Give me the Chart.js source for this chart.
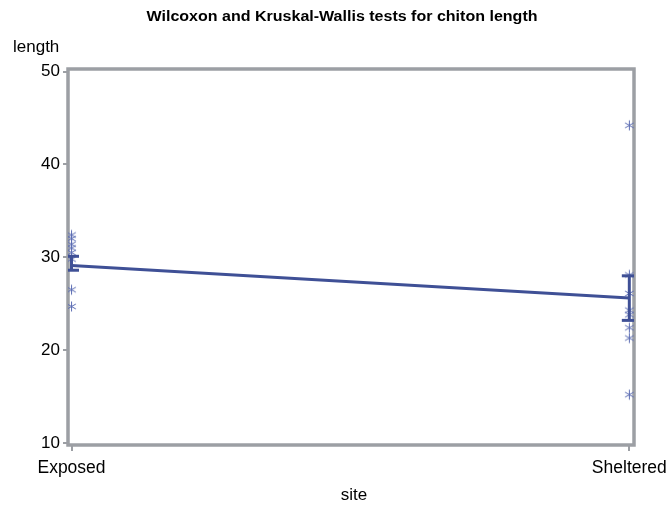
<!DOCTYPE html>
<html>
<head>
<meta charset="utf-8">
<script src="https://cdn.jsdelivr.net/npm/chart.js@4/dist/chart.umd.min.js"></script>
<style>
  html, body { margin: 0; padding: 0; background: #ffffff; }
  #wrap { width: 669px; height: 510px; }
</style>
</head>
<body>
<div id="wrap"><canvas id="chart" width="669" height="510"></canvas></div>
<script>
// Chiton lengths by site
const sites = ['Exposed', 'Sheltered'];
const exposedLengths = [32.4, 32.0, 31.4, 31.0, 30.5, 29.8, 26.5, 24.7];
const shelteredLengths = [44.2, 28.1, 26.1, 24.3, 23.8, 22.4, 21.3, 15.2];
// Site means with their interval ends
const siteMeans = [29.1, 25.6];
const siteLower = [28.6, 23.2];
const siteUpper = [30.1, 28.0];
const yTicks = [10, 20, 30, 40, 50];

const FRAME = '#9c9fa4';
const LINE = '#3f5096';
const STAR = '#5b6cb3';
const FONT = '"Liberation Sans", Arial, sans-serif';

// six-armed asterisk marker
function makeStar(color) {
  const s = 13, c = document.createElement('canvas');
  c.width = s; c.height = s;
  const g = c.getContext('2d');
  g.strokeStyle = color; g.lineWidth = 1;
  const r = 5, m = s / 2;
  for (const a of [90, 30, -30]) {
    const t = a * Math.PI / 180;
    g.beginPath();
    g.moveTo(m - r * Math.cos(t), m - r * Math.sin(t));
    g.lineTo(m + r * Math.cos(t), m + r * Math.sin(t));
    g.stroke();
  }
  return c;
}
const starMarker = makeStar(STAR);

const pointsOf = (vals, i) => vals.map(v => ({ x: i, y: v }));

const datasets = [
  {
    type: 'scatter',
    data: pointsOf(exposedLengths, 0).concat(pointsOf(shelteredLengths, 1)),
    pointStyle: starMarker,
    pointRadius: 6,
    order: 3
  },
  {
    type: 'line',
    data: siteMeans.map((m, i) => ({ x: i, y: m })),
    borderColor: LINE,
    borderWidth: 3,
    pointRadius: 0,
    fill: false,
    order: 2
  }
];
// interval bars with caps
sites.forEach((s, i) => {
  datasets.push({
    type: 'line',
    data: [{ x: i, y: siteLower[i] }, { x: i, y: siteUpper[i] }],
    borderColor: LINE,
    borderWidth: 3,
    pointStyle: 'line',
    pointRadius: 7.5,
    pointBorderWidth: 3,
    pointBorderColor: LINE,
    fill: false,
    order: 1
  });
});

// draws text stretched horizontally to a given width
function wideText(ctx, text, x, y, width) {
  const w = ctx.measureText(text).width;
  ctx.save();
  ctx.translate(x, y);
  ctx.scale(width / w, 1);
  ctx.fillText(text, 0, 0);
  ctx.restore();
}

const decor = {
  id: 'decor',
  beforeDatasetsDraw(chart) {
    const { ctx, chartArea: a } = chart;
    ctx.save();
    ctx.strokeStyle = FRAME;
    ctx.lineWidth = 3.5;
    ctx.strokeRect(a.left, a.top, a.right - a.left, a.bottom - a.top);
    ctx.restore();
  },
  afterDraw(chart) {
    const { ctx } = chart;
    ctx.save();
    ctx.fillStyle = '#000';
    ctx.textBaseline = 'middle';
    ctx.textAlign = 'center';
    ctx.font = 'bold 14px ' + FONT;
    wideText(ctx, 'Wilcoxon and Kruskal-Wallis tests for chiton length', 342, 17, 391);
    ctx.font = '17px ' + FONT;
    ctx.fillText('site', 354, 495);
    ctx.textAlign = 'left';
    ctx.fillText('length', 13, 47);
    ctx.restore();
  }
};

new Chart(document.getElementById('chart'), {
  data: { datasets },
  options: {
    responsive: false,
    animation: false,
    devicePixelRatio: 1,
    layout: { padding: { top: 69, right: 35, bottom: 0, left: 0 } },
    plugins: { legend: { display: false }, tooltip: { enabled: false }, title: { display: false } },
    scales: {
      x: {
        type: 'linear',
        min: -0.0063,
        max: 1.0084,
        afterFit(scale) {
          scale.height = 65;
          scale.paddingLeft = 0;
          scale.paddingRight = 0;
        },
        afterBuildTicks(scale) { scale.ticks = sites.map((s, i) => ({ value: i })); },
        border: { display: false },
        grid: { drawOnChartArea: false, drawTicks: true, tickLength: 6, color: FRAME, lineWidth: 2 },
        ticks: {
          color: '#000',
          font: { family: FONT, size: 17.5 },
          padding: 7,
          maxRotation: 0,
          callback: v => sites[v]
        }
      },
      y: {
        type: 'linear',
        min: 9.78,
        max: 50.27,
        afterFit(scale) {
          scale.width = 68;
          scale.paddingTop = 0;
          scale.paddingBottom = 0;
        },
        afterBuildTicks(scale) { scale.ticks = yTicks.map(v => ({ value: v })); },
        border: { display: false },
        grid: { drawOnChartArea: false, drawTicks: true, tickLength: 5, color: FRAME, lineWidth: 2 },
        ticks: {
          color: '#000',
          font: { family: FONT, size: 17 },
          padding: 3
        }
      }
    }
  },
  plugins: [decor]
});
</script>
</body>
</html>
